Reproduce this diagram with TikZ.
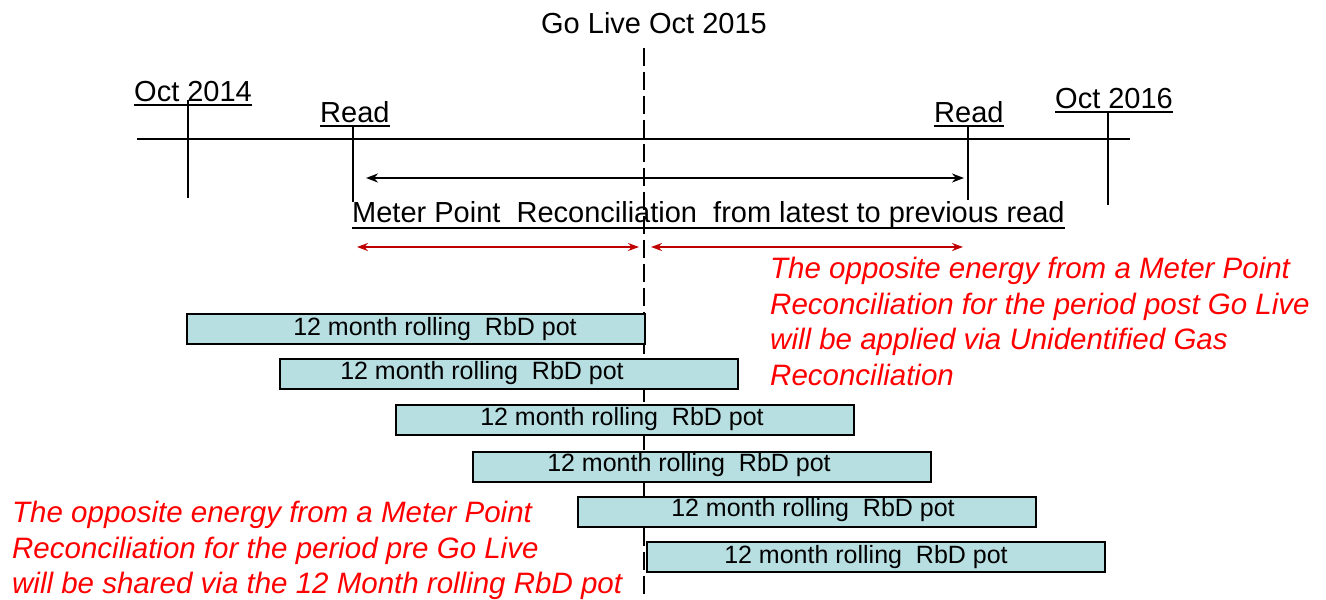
\documentclass[tikz,border=0pt]{standalone}
\usepackage{fontspec}
\setmainfont{Liberation Sans}
\usetikzlibrary{arrows.meta}
\definecolor{potfill}{RGB}{183,222,225}
\definecolor{arrowred}{RGB}{192,0,0}
\definecolor{notered}{RGB}{255,0,0}
\tikzset{
  lbl/.style={inner sep=0pt, font=\fontsize{29}{34}\selectfont},
  ulline/.style={line width=2pt},
  axis/.style={line width=2pt},
  golive/.style={line width=2pt, dash pattern=on 18pt off 6pt},
  pot/.style={draw=black, line width=2pt, fill=potfill, minimum width=458pt, minimum height=30pt, inner sep=0pt},
  potlbl/.style={inner sep=0pt, font=\fontsize{25}{30}\selectfont},
  blackarrow/.style={line width=2pt, {Stealth[length=12pt,width=9pt]}-{Stealth[length=12pt,width=9pt]}},
  redarrow/.style={draw=arrowred, line width=1.8pt, {Stealth[length=11pt,width=8pt]}-{Stealth[length=11pt,width=8pt]}},
  note/.style={inner sep=0pt, text=notered, align=left, font=\fontsize{29.5}{35.5}\selectfont\itshape},
}
\begin{document}
\begin{tikzpicture}[x=1pt,y=-1pt]
\useasboundingbox (0,0) rectangle (1326,600);
% go live line
\coordinate (gltop) at (644,48);
\coordinate (glbot) at (644,596);
\draw[golive] (gltop) -- (glbot);
\node[lbl, anchor=base] (golive) at (654,33) {Go Live Oct 2015};
% timeline
\coordinate (tlL) at (137,139);
\coordinate (tlR) at (1130,139);
\draw[axis] (tlL) -- (tlR);
% labels
\node[lbl, anchor=base west] (oct14) at (134,101) {Oct 2014};
\node[lbl, anchor=base west] (readL) at (320,122) {Read};
\node[lbl, anchor=base west] (readR) at (934,122) {Read};
\node[lbl, anchor=base west] (oct16) at (1055,108) {Oct 2016};
\foreach \n in {oct14,readL,readR,oct16}
  \draw[ulline] ([yshift=-4pt]\n.base west) -- ([yshift=-4pt]\n.base east);
% ticks
\coordinate (t14a) at (188,100); \coordinate (t14b) at (188,198);
\coordinate (rLa) at (353,127); \coordinate (rLb) at (353,202);
\coordinate (rRa) at (968,127); \coordinate (rRb) at (968,200);
\coordinate (t16a) at (1108,112); \coordinate (t16b) at (1108,205);
\draw[axis] (t14a) -- (t14b);
\draw[axis] (rLa) -- (rLb);
\draw[axis] (rRa) -- (rRb);
\draw[axis] (t16a) -- (t16b);
% black double arrow
\coordinate (baL) at (366,178);
\coordinate (baR) at (964,178);
\draw[blackarrow] (baL) -- (baR);
% meter point text
\node[lbl, anchor=base west] (mpr) at (352,222) {Meter Point\ \ Reconciliation\ \ from latest to previous read};
\draw[ulline] ([yshift=-6pt]mpr.base west) -- ([yshift=-6pt]mpr.base east);
% red arrows
\coordinate (raL1) at (357,247); \coordinate (raL2) at (639,247);
\coordinate (raR1) at (651,247); \coordinate (raR2) at (963,247);
\draw[redarrow] (raL1) -- (raL2);
\draw[redarrow] (raR1) -- (raR2);
% notes
\node[note, anchor=north west] (notepost) at (770,257) {The opposite energy from a Meter Point\\Reconciliation for the period post Go Live\\will be applied via Unidentified Gas\\Reconciliation};
% pots
\node[pot] (pot1) at (416,329) {};
\node[pot] (pot2) at (508.5,373.5) {};
\node[pot] (pot3) at (624.5,419.5) {};
\node[pot] (pot4) at (701.5,467) {};
\node[pot] (pot5) at (806.5,512) {};
\node[pot] (pot6) at (876,557) {};
\node[potlbl] (pl1) at (435,329) {12 month rolling\ \ RbD pot};
\node[potlbl] (pl2) at (482,373.5) {12 month rolling\ \ RbD pot};
\node[potlbl] (pl3) at (622,419.5) {12 month rolling\ \ RbD pot};
\node[potlbl] (pl4) at (689,465) {12 month rolling\ \ RbD pot};
\node[potlbl] (pl5) at (813,510) {12 month rolling\ \ RbD pot};
\node[potlbl] (pl6) at (866,557) {12 month rolling\ \ RbD pot};
\node[note, anchor=north west] (notepre) at (12,501) {The opposite energy from a Meter Point\\Reconciliation for the period pre Go Live\\will be shared via the 12 Month rolling RbD pot};
\end{tikzpicture}
\end{document}
